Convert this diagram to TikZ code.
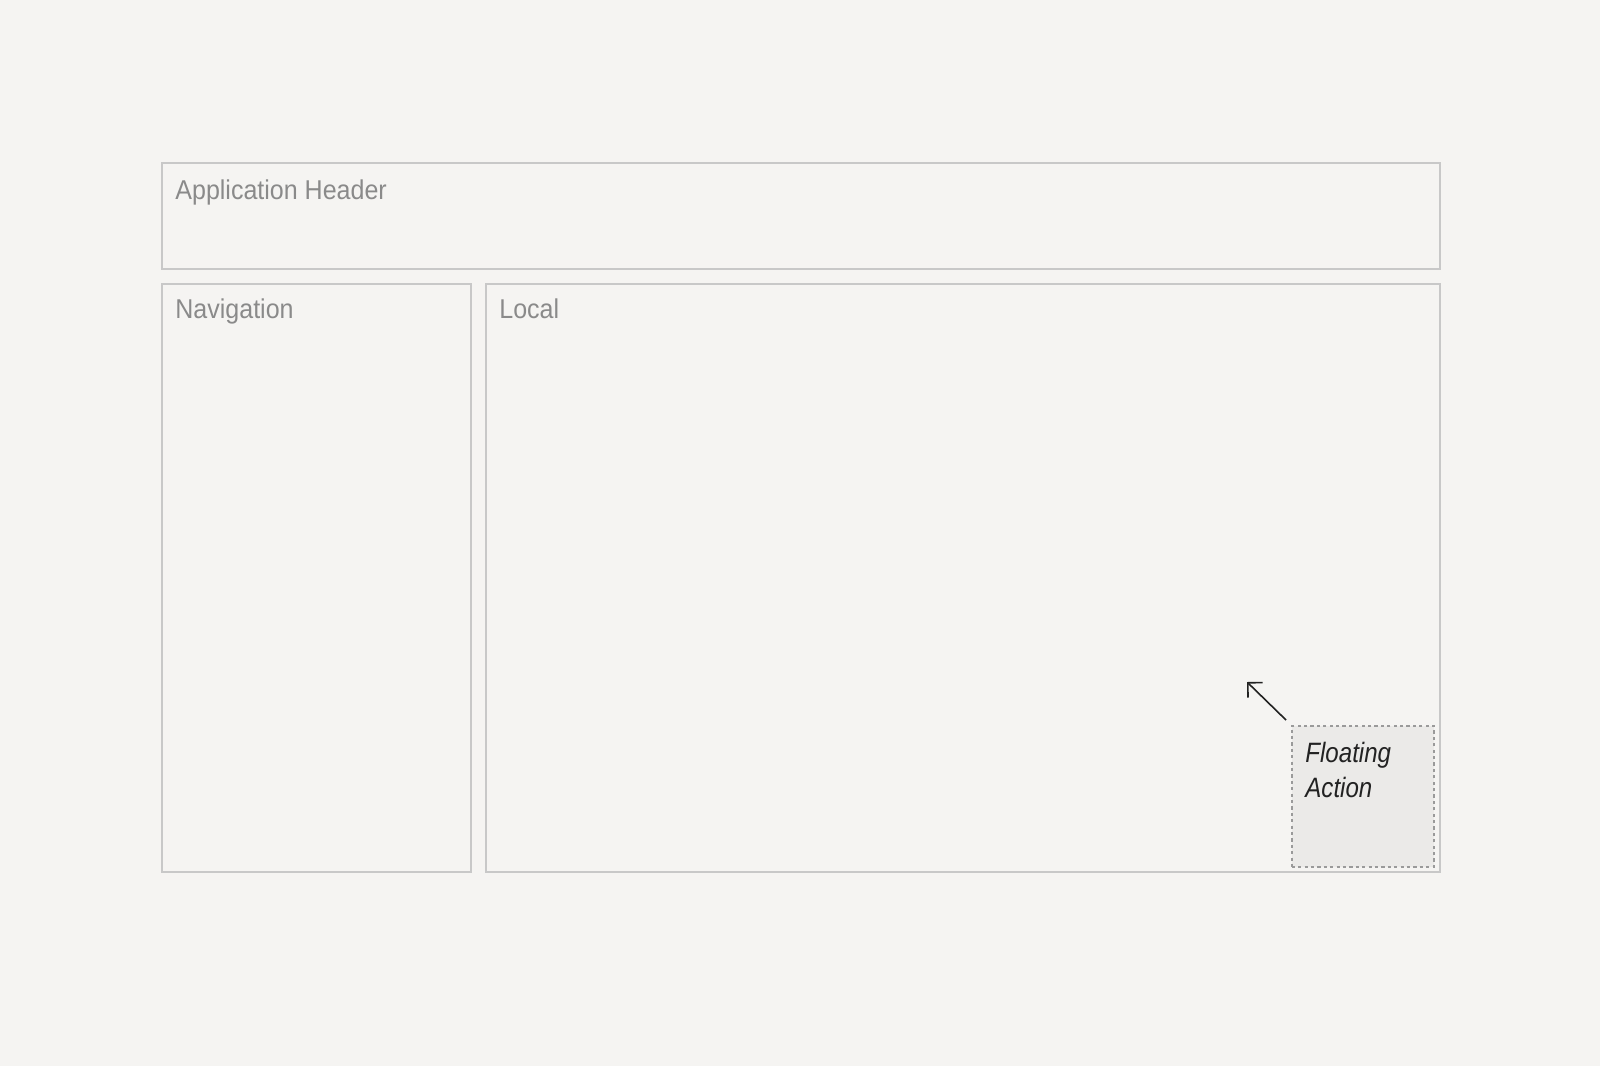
\documentclass[tikz,border=0pt]{standalone}
\usepackage{fontspec}
\setmainfont{Liberation Sans}
\newfontfamily\condfont[FakeStretch=0.92]{Liberation Sans}
\newfontfamily\condfontit[FakeStretch=0.86]{Liberation Sans Italic}
\usetikzlibrary{arrows.meta}
\definecolor{pagebg}{HTML}{F5F4F2}
\definecolor{regionline}{HTML}{C8C8C8}
\definecolor{regiontext}{HTML}{8A8A8A}
\definecolor{fabfill}{HTML}{EBEAE8}
\definecolor{fabline}{HTML}{9A9A9A}
\definecolor{inkdark}{HTML}{222222}
\begin{document}
\begin{tikzpicture}[x=0.5pt, y=-0.5pt,
  region/.style={draw=regionline, line width=1pt, anchor=north west, inner sep=0pt},
  regionlabel/.style={anchor=base west, inner sep=0pt, text=regiontext, font=\condfont\fontsize{13.6}{16}\selectfont},
  fabbox/.style={draw=fabline, fill=fabfill, line width=0.75pt, dash pattern=on 1.6pt off 1.6pt, anchor=north west, inner sep=0pt},
  >={Straight Barb[length=5.2pt, width=10.4pt]}]
% Page
\fill[pagebg] (0,0) rectangle (1600,1066);
\useasboundingbox (0,0) rectangle (1600,1066);

% Header
\node[region, minimum width=639pt, minimum height=53.25pt] (header) at (161,161.5) {};
\node[regionlabel] (headerlabel) at (175,199) {Application Header};

% Navigation
\node[region, minimum width=154.5pt, minimum height=294pt] (nav) at (161,283) {};
\node[regionlabel] (navlabel) at (175,318) {Navigation};

% Local
\node[region, minimum width=477pt, minimum height=294pt] (local) at (485,283) {};
\node[regionlabel] (locallabel) at (499,318) {Local};

% Floating action
\node[fabbox, minimum width=71pt, minimum height=70.5pt] (fab) at (1291,725) {};
\node[anchor=north west, inner sep=0pt, align=left, text=inkdark, font=\condfontit\fontsize{14}{17.5}\selectfont] (fablabel) at (1305,741.5) {Floating\\Action};

% Arrow
\coordinate (fabtip) at (1247,682);
\draw[->, inkdark, line width=0.8pt] ([shift={(-5,-5)}]fab.north west) -- (fabtip);
\end{tikzpicture}
\end{document}
